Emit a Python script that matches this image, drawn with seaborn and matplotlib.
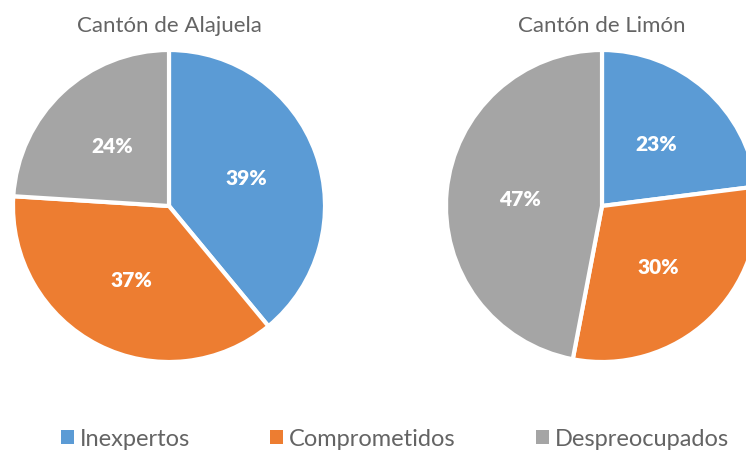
import matplotlib
matplotlib.use("Agg")
import matplotlib.pyplot as plt
from matplotlib.patches import Patch
import seaborn as sns

# Data
categories = ["Inexpertos", "Comprometidos", "Despreocupados"]
alajuela_values = [39, 37, 24]
limon_values = [23, 30, 47]
titles = ["Cantón de Alajuela", "Cantón de Limón"]

sns.set_theme(style="white")
plt.rcParams['font.family'] = ['Lato', 'DejaVu Sans']
colors = ["#5B9BD5", "#ED7D31", "#A5A5A5"]
text_gray = "#646464"

W, H = 746, 452
fig = plt.figure(figsize=(W / 100, H / 100), dpi=100)

R = 156        # pie radius in px
L = 1.04       # axis half-limit in data units
centers = [(169, 207), (602, 207)]

for (cx, cy), values, title in zip(centers, [alajuela_values, limon_values], titles):
    half = R * L
    ax = fig.add_axes([(cx - half) / W, (H - cy - half) / H, 2 * half / W, 2 * half / H])
    ax.pie(values, colors=colors, startangle=90, counterclock=False,
           autopct=lambda p: f"{p:.0f}%", pctdistance=0.53,
           wedgeprops=dict(edgecolor="white", linewidth=3),
           textprops=dict(color="white", fontsize=15, fontweight="heavy"))
    ax.set_xlim(-L, L)
    ax.set_ylim(-L, L)
    ax.set_aspect("equal")
    ax.axis("off")
    fig.text(cx / W, 1 - 26 / H, title, ha="center", va="center",
             fontsize=16, color=text_gray, fontweight="normal")

handles = [Patch(facecolor=c, edgecolor="none") for c in colors]
fig.legend(handles, categories, loc="center", bbox_to_anchor=(395 / W, 1 - 440 / H),
           ncol=3, frameon=False, labelcolor=text_gray,
           handlelength=0.55, handleheight=0.55, handletextpad=0.25, columnspacing=3.4,
           prop=dict(weight="normal", size=17))

fig.savefig("out.png", dpi=100)
